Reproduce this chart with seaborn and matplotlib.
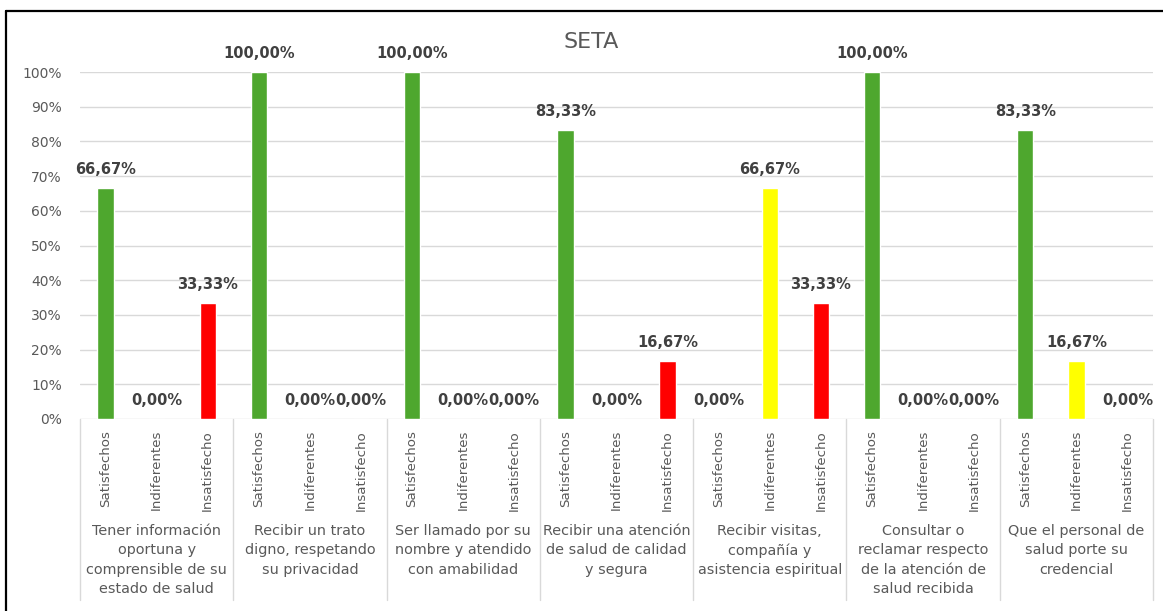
import matplotlib
matplotlib.use("Agg")
import matplotlib.pyplot as plt
import seaborn as sns
import pandas as pd
from matplotlib.lines import Line2D

# ---------------- data ----------------
grupos = [
    "Tener información\noportuna y\ncomprensible de su\nestado de salud",
    "Recibir un trato\ndigno, respetando\nsu privacidad",
    "Ser llamado por su\nnombre y atendido\ncon amabilidad",
    "Recibir una atención\nde salud de calidad\ny segura",
    "Recibir visitas,\ncompañía y\nasistencia espiritual",
    "Consultar o\nreclamar respecto\nde la atención de\nsalud recibida",
    "Que el personal de\nsalud porte su\ncredencial",
]
categorias = ["Satisfechos", "Indiferentes", "Insatisfecho"]
satisfechos = [66.67, 100.00, 100.00, 83.33, 0.00, 100.00, 83.33]
indiferentes = [0.00, 0.00, 0.00, 0.00, 66.67, 0.00, 16.67]
insatisfecho = [33.33, 0.00, 0.00, 16.67, 33.33, 0.00, 0.00]
y_ticks = [0, 10, 20, 30, 40, 50, 60, 70, 80, 90, 100]
titulo = "SETA"

colores = {"Satisfechos": "#4EA72E", "Indiferentes": "#FFFF00", "Insatisfecho": "#FF0000"}

rows = []
for cat, vals in zip(categorias, [satisfechos, indiferentes, insatisfecho]):
    for g, v in zip(grupos, vals):
        rows.append({"grupo": g, "categoria": cat, "valor": v})
df = pd.DataFrame(rows)

# ---------------- figure ----------------
sns.set_theme(style="white")
plt.rcParams["font.family"] = ["DejaVu Sans"]

W, H = 1163, 611
fig = plt.figure(figsize=(W / 100, H / 100), dpi=100)
fig.patch.set_facecolor("white")

left_px, right_px, top_px, bot_px = 80, 1153, 72, 419
ax = fig.add_axes([left_px / W, (H - bot_px) / H,
                   (right_px - left_px) / W, (bot_px - top_px) / H])

sns.barplot(data=df, x="grupo", y="valor", hue="categoria", order=grupos,
            hue_order=categorias, palette=colores, width=1.0, gap=0.68,
            legend=False, saturation=1, ax=ax)

ax.set_xlim(-0.5, len(grupos) - 0.5)
ax.set_ylim(0, 100)
ax.set_yticks(y_ticks)
ax.set_yticklabels([f"{t}%" for t in y_ticks])
ax.yaxis.grid(True, color="#d9d9d9", linewidth=1.0)
ax.set_axisbelow(True)
for s in ax.spines.values():
    s.set_visible(False)
ax.set_xlabel("")
ax.set_ylabel("")
ax.tick_params(axis="y", length=0, pad=13, labelsize=10, labelcolor="#595959")

# data labels and category tick labels
pos, labs = [], []
for cat, cont in zip(categorias, ax.containers):
    for bar in cont:
        xc = bar.get_x() + bar.get_width() / 2
        h = bar.get_height()
        pos.append(xc)
        labs.append(cat)
        ax.annotate(f"{h:.2f}%".replace(".", ","), xy=(xc, h), xytext=(0, 8),
                    textcoords="offset points", ha="center", va="bottom",
                    fontsize=10.5, fontweight="bold", color="#404040",
                    annotation_clip=False)

order = sorted(range(len(pos)), key=lambda i: pos[i])
ax.set_xticks([pos[i] for i in order])
ax.set_xticklabels([labs[i] for i in order], rotation=90, va="top", ha="center")
ax.tick_params(axis="x", length=0, pad=8, labelsize=9.6, labelcolor="#595959")

# group labels and separators
sep_bottom = -(600 - bot_px) / (bot_px - top_px)
xt = ax.get_xaxis_transform()
for i, g in enumerate(grupos):
    ax.text(i, -(524 - bot_px) / (bot_px - top_px), g, transform=xt,
            ha="center", va="top", fontsize=10.4, color="#595959",
            linespacing=1.48)
for b in range(len(grupos) + 1):
    ax.add_line(Line2D([b - 0.5, b - 0.5], [0, sep_bottom], transform=xt,
                       color="#d9d9d9", linewidth=1.0, clip_on=False))

# title
fig.text(591 / W, 1 - 42 / H, titulo, ha="center", va="center",
         fontsize=16, color="#595959")

# chart frame (top and left edges visible)
fig.add_artist(Line2D([6 / W, 1], [1 - 11 / H, 1 - 11 / H], transform=fig.transFigure,
                      color="black", linewidth=1.6))
fig.add_artist(Line2D([6 / W, 6 / W], [0, 1 - 11 / H], transform=fig.transFigure,
                      color="black", linewidth=1.6))

fig.savefig("out.png", dpi=100, facecolor="white")
